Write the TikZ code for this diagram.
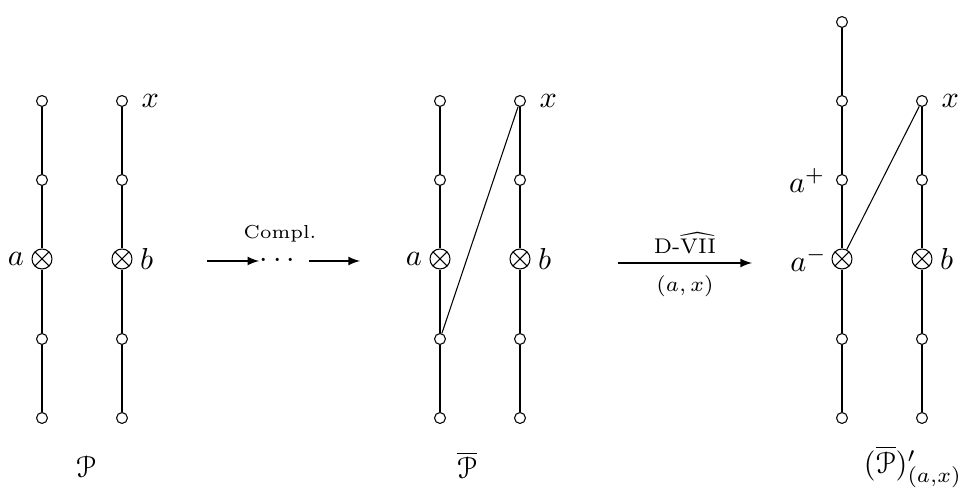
\documentclass[tikz,border=0pt]{standalone}
\usepackage{amsmath}
\usepackage{amssymb}
\usepackage[mathcal]{eucal}
\usetikzlibrary{arrows,positioning}

\begin{document}
\begin{tikzpicture}[
    x=0.33pt, y=-0.33pt,
    vtx/.style={circle, draw=black, fill=white, line width=0.35pt, inner sep=0pt, minimum size=3.6pt},
    otm/.style={circle, draw=black, fill=white, line width=0.35pt, inner sep=0pt, minimum size=6.6pt,
                path picture={\draw[line width=0.35pt] (path picture bounding box.north west) -- (path picture bounding box.south east)
                                    (path picture bounding box.north east) -- (path picture bounding box.south west);}},
    edge/.style={draw=black, line width=0.35pt},
    arr/.style={->, >=latex, line width=0.35pt},
    lbl/.style={font=\scriptsize, inner sep=1pt},
]
\useasboundingbox (0,0) rectangle (961,493);

% first diagram
\node[vtx] (pa1) at (42,101) {};
\node[vtx] (pa2) at (42,180) {};
\node[otm, label={[label distance=-1pt]left:$a$}] (pa3) at (42,259) {};
\node[vtx] (pa4) at (42,339) {};
\node[vtx] (pa5) at (42,418) {};
\node[vtx, label={[label distance=1pt]right:$x$}] (pb1) at (122,101) {};
\node[vtx] (pb2) at (122,180) {};
\node[otm, label={[label distance=-1pt]right:$b$}] (pb3) at (122,259) {};
\node[vtx] (pb4) at (122,339) {};
\node[vtx] (pb5) at (122,418) {};
\draw[edge] (pa1) -- (pa2) -- (pa3) -- (pa4) -- (pa5);
\draw[edge] (pb1) -- (pb2) -- (pb3) -- (pb4) -- (pb5);
\node (p) at (86,467) {$\mathcal{P}$};

% completion arrow
\node[inner sep=0pt] (dots) at (280,261) {$\cdots$};
\node[lbl, font=\fontsize{6.2pt}{7pt}\selectfont, above=2.5pt of dots] (compl) {Compl.};
\coordinate (c1s) at (207,261);
\coordinate (c1e) at (360,261);
\draw[arr] (c1s) -- (dots.west);
\draw[arr] (dots.east) ++(8,0) coordinate (c1m) (c1m) -- (c1e);

% second diagram
\node[vtx] (qa1) at (440,101) {};
\node[vtx] (qa2) at (440,180) {};
\node[otm, label={[label distance=-1pt]left:$a$}] (qa3) at (440,259) {};
\node[vtx] (qa4) at (440,339) {};
\node[vtx] (qa5) at (440,418) {};
\node[vtx, label={[label distance=1pt]right:$x$}] (qb1) at (520,101) {};
\node[vtx] (qb2) at (520,180) {};
\node[otm, label={[label distance=-1pt]right:$b$}] (qb3) at (520,259) {};
\node[vtx] (qb4) at (520,339) {};
\node[vtx] (qb5) at (520,418) {};
\draw[edge] (qa1) -- (qa2) -- (qa3) -- (qa4) -- (qa5);
\draw[edge] (qb1) -- (qb2) -- (qb3) -- (qb4) -- (qb5);
\draw[edge] (qa4) -- (qb1);
\node (pbar) at (467,465) {$\overline{\mathcal{P}}$};

% move arrow
\coordinate (c2s) at (618,263);
\coordinate (c2e) at (752,263);
\draw[arr] (c2s) -- node[lbl, above=2pt] {D-$\widehat{\mathrm{VII}}$} node[lbl, below=3pt] {$(a,x)$} (c2e);

% third diagram
\node[vtx] (ra0) at (842,22) {};
\node[vtx] (ra1) at (842,101) {};
\node[vtx, label={[label distance=0pt]left:$a^{+}$}] (ra2) at (842,180) {};
\node[otm, label={[label distance=-2pt]left:$a^{-}$}] (ra3) at (842,259) {};
\node[vtx] (ra4) at (842,339) {};
\node[vtx] (ra5) at (842,418) {};
\node[vtx, label={[label distance=1pt]right:$x$}] (rb1) at (922,101) {};
\node[vtx] (rb2) at (922,180) {};
\node[otm, label={[label distance=-1pt]right:$b$}] (rb3) at (922,259) {};
\node[vtx] (rb4) at (922,339) {};
\node[vtx] (rb5) at (922,418) {};
\draw[edge] (ra0) -- (ra1) -- (ra2) -- (ra3) -- (ra4) -- (ra5);
\draw[edge] (rb1) -- (rb2) -- (rb3) -- (rb4) -- (rb5);
\draw[edge] (ra3) -- (rb1);
\node (ppr) at (913,467) {$(\overline{\mathcal{P}})'_{(a,x)}$};

\end{tikzpicture}
\end{document}
